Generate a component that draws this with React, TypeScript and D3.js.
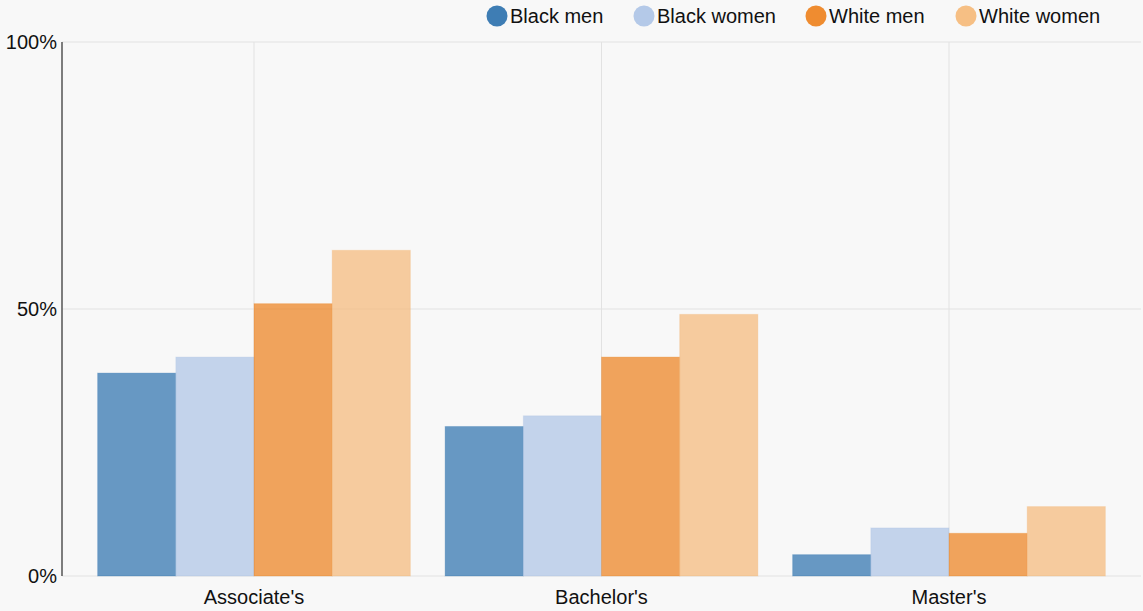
import React from "react";
import * as d3 from "d3";

const degrees = ["Associate's", "Bachelor's", "Master's"];
const groups = ["Black men", "Black women", "White men", "White women"];
const blackMen = [38, 28, 4];
const blackWomen = [41, 30, 9];
const whiteMen = [51, 41, 8];
const whiteWomen = [61, 49, 13];
const yTicks = [0, 50, 100];
const colors = ["#296fac", "#acc3e5", "#ed7f19", "#f5b877"];

const W = 1143;
const H = 611;
const left = 62;
const right = 1141;
const top = 42;
const bottom = 576;

export default function App() {
  const series = [blackMen, blackWomen, whiteMen, whiteWomen];
  const x0 = d3.scaleBand<string>().domain(degrees).range([left, right]).paddingInner(0.1).paddingOuter(0.1025);
  const x1 = d3.scaleBand<string>().domain(groups).range([0, x0.bandwidth()]);
  const y = d3.scaleLinear().domain([0, 100]).range([bottom, top]);
  const color = d3.scaleOrdinal<string, string>().domain(groups).range(colors);
  const font = "Liberation Sans, Arial, sans-serif";

  const legendX = [487, 634, 806, 956];

  return (
    <div style={{ position: "fixed", inset: 0, background: "#f8f8f8" }}>
      <svg width={W} height={H} style={{ display: "block" }} fontFamily={font}>
        {/* gridlines */}
        {yTicks.map((t) => (
          <line key={"h" + t} x1={left} x2={right} y1={y(t)} y2={y(t)} stroke="#e2e2e2" strokeWidth={1} />
        ))}
        {degrees.map((d) => {
          const cx = (x0(d) as number) + x0.bandwidth() / 2;
          return <line key={"v" + d} x1={cx} x2={cx} y1={top} y2={bottom} stroke="#e2e2e2" strokeWidth={1} />;
        })}
        {/* bars */}
        {groups.map((g, gi) =>
          degrees.map((d, di) => {
            const v = series[gi][di];
            const bx = (x0(d) as number) + (x1(g) as number);
            return (
              <rect
                key={g + d}
                x={bx}
                y={y(v)}
                width={x1.bandwidth()}
                height={y(0) - y(v)}
                fill={color(g)}
                fillOpacity={0.7}
                stroke={color(g)}
                strokeOpacity={0.25}
                strokeWidth={1}
              />
            );
          })
        )}
        {/* y axis */}
        <line x1={left} x2={left} y1={top} y2={bottom} stroke="#555" strokeWidth={1.5} />
        {yTicks.map((t) => (
          <text key={"t" + t} x={left - 5} y={y(t)} dy="0.35em" textAnchor="end" fontSize={20} fill="#111">
            {t}%
          </text>
        ))}
        {/* x labels */}
        {degrees.map((d) => (
          <text
            key={"l" + d}
            x={(x0(d) as number) + x0.bandwidth() / 2}
            y={bottom + 21}
            dy="0.35em"
            textAnchor="middle"
            fontSize={20}
            fill="#111"
          >
            {d}
          </text>
        ))}
        {/* legend */}
        {groups.map((g, i) => (
          <g key={"lg" + g} transform={`translate(${legendX[i]},16)`}>
            <circle cx={10} cy={0} r={10.5} fill={color(g)} fillOpacity={0.9} />
            <text x={23} y={0} dy="0.35em" fontSize={20} fill="#111">
              {g}
            </text>
          </g>
        ))}
      </svg>
    </div>
  );
}
